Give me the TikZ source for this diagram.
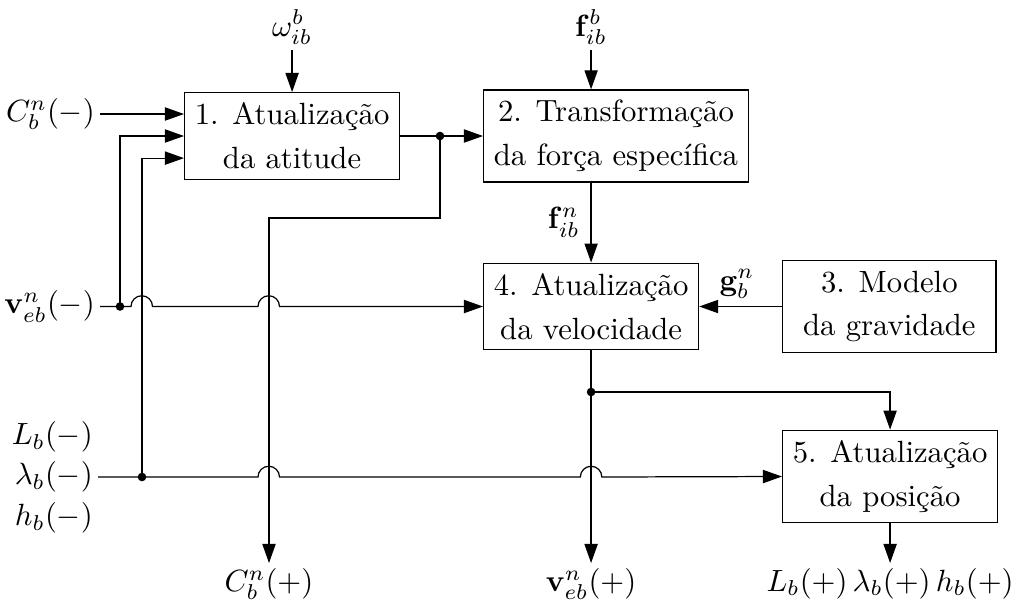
\documentclass[tikz,border=0pt]{standalone}
\usetikzlibrary{arrows.meta,calc}
\begin{document}
\begin{tikzpicture}[x=0.011448cm,y=-0.011448cm,
 blk/.style={draw, align=center, minimum width=69.5pt, minimum height=28pt, inner sep=3.33pt},
 arr/.style={-{Triangle[length=6.2pt,width=4.3pt]}},
 jdot/.style={circle, fill, inner sep=0pt, minimum size=2.8pt},
 lbl/.style={inner sep=1.5pt}]
\useasboundingbox (0,0) rectangle (1014,601);

% blocks
\node[blk, anchor=west] (b1) at (184,136) {1. Atualização\\[2.3pt]da atitude};
\node[blk, anchor=west] (b2) at (483,136) {2. Transformação\\[2.3pt]da força específica};
\node[blk, anchor=west] (b4) at (483,306.5) {4. Atualização\\[2.3pt]da velocidade};
\node[blk, anchor=west] (b3) at (782,306.5) {3. Modelo\\[2.3pt]da gravidade};
\node[blk, anchor=west] (b5) at (782,476.5) {5. Atualização\\[2.3pt]da posição};

% helper rows
\coordinate (ytop) at (0,50);
\coordinate (ybot) at (0,563);
\coordinate (yout) at (0,392);
\coordinate (c2) at (269,218);

% labels
\node[lbl, anchor=south] (om) at (b1.north |- ytop) {$\omega^b_{ib}$};
\node[lbl, anchor=south] (fb) at (b4.north |- ytop) {$\mathbf{f}^b_{ib}$};
\node[lbl, anchor=east] (fn) at (585,222) {$\mathbf{f}^n_{ib}$};
\node[lbl, anchor=south] (gn) at (737,304) {$\mathbf{g}^n_b$};
\node[lbl, anchor=east] (cin) at (100,114) {$C^n_b(-)$};
\node[lbl, anchor=east] (vin) at (100,306.5) {$\mathbf{v}^n_{eb}(-)$};
\node[lbl, anchor=east] (Lin) at (98,437) {$L_b(-)$};
\node[lbl, anchor=east] (lin) at (98,477) {$\lambda_b(-)$};
\node[lbl, anchor=east] (hin) at (98,518) {$h_b(-)$};
\node[lbl, anchor=north] (cout) at (c2 |- ybot) {$C^n_b(+)$};
\node[lbl, anchor=north] (vout) at (b4.south |- ybot) {$\mathbf{v}^n_{eb}(+)$};
\node[lbl, anchor=north] (pout) at (b5.south |- ybot) {$L_b(+)\,\lambda_b(+)\,h_b(+)$};

% junction dots
\node[jdot] (d1) at (440,136) {};
\node[jdot] (vdot) at (120,306.5) {};
\node[jdot] (ldot) at (142,477) {};
\node[jdot] (odot) at (b4.south |- yout) {};

% connectors
\draw[arr] (cin.east) -- (cin.east -| b1.west);
\draw[arr] (vdot.center) |- (b1.west);
\draw[arr] (ldot.center) |- ($(b1.west)+(0,-7.2pt)$);
\draw[arr] (b1.east) -- (b2.west);
\draw[arr] (d1.center) |- (c2) -- (cout.north);
\draw[arr] (om.south) -- (b1.north);
\draw[arr] (fb.south) -- (fb.south |- b2.north);
\draw[arr] (b4.north |- b2.south) -- (b4.north);
\draw[arr] (b3.west) -- (b4.east);
\draw[arr] (b4.south) -- (vout.north);
\draw[arr] (odot.center) -| (b5.north);
\draw[arr] (b5.south) -- (pout.north);

\draw[arr] (vin.east) -- (131,306.5) arc[start angle=180,end angle=0,radius=3.5pt]
  -- (258,306.5) arc[start angle=180,end angle=0,radius=3.5pt] -- (b4.west);
\draw[arr] (lin.east) -- (258,477) arc[start angle=180,end angle=0,radius=3.5pt]
  -- ($(b4.south |- lin.east)+(-3.5pt,0)$) arc[start angle=180,end angle=0,radius=3.5pt] -- (b5.west);
\end{tikzpicture}
\end{document}
